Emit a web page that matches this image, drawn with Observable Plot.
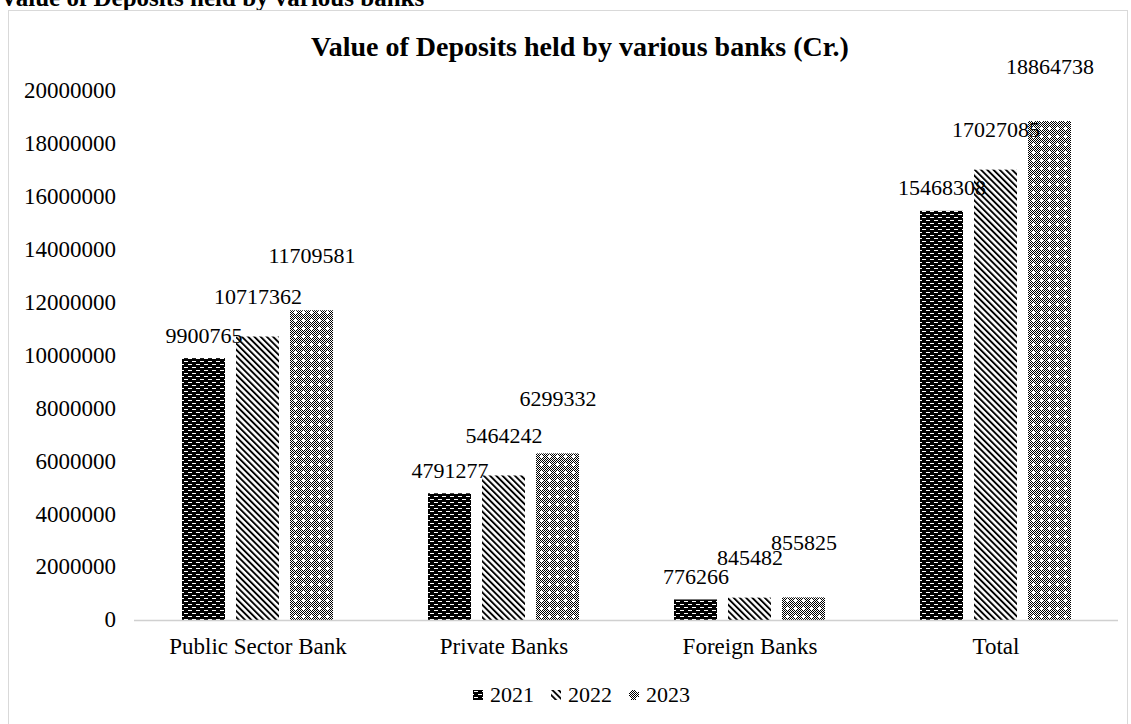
<!DOCTYPE html>
<html><head><meta charset="utf-8">
<script src="https://cdn.jsdelivr.net/npm/d3@7"></script>
<script src="https://cdn.jsdelivr.net/npm/@observablehq/plot@0.6"></script>
<style>
body{margin:0;width:1131px;height:724px;overflow:hidden;position:relative;background:#fff;font-family:"Liberation Serif","Times New Roman",serif;color:#000}
#pageTitle{position:absolute;left:0;top:-15px;font-weight:bold;font-size:25px;line-height:25px;white-space:nowrap}
#frame{position:absolute;left:8px;top:10px;width:1120px;height:760px;border:1px solid #d9d9d9;box-sizing:border-box}
#chartTitle{position:absolute;left:580px;top:31px;transform:translateX(-50%);font-weight:bold;font-size:28px;line-height:32px;white-space:nowrap}
#chart{position:absolute;left:0;top:0}
#legend{position:absolute;left:473px;top:683px;display:flex;align-items:center;font-size:22px;line-height:24px}
#legend .item{display:flex;align-items:center;margin-right:17px}
#legend svg{margin-right:7px}
</style></head>
<body>
<svg width="0" height="0" style="position:absolute">
  <defs id="patterns"></defs>
</svg>
<div id="pageTitle">Value of Deposits held by various banks</div>
<div id="frame"></div>
<div id="chartTitle">Value of Deposits held by various banks (Cr.)</div>
<div id="chart"></div>
<div id="legend"></div>
<script>
const categories = ["Public Sector Bank", "Private Banks", "Foreign Banks", "Total"];
const years = ["2021", "2022", "2023"];
const values2021 = [9900765, 4791277, 776266, 15468308];
const values2022 = [10717362, 5464242, 845482, 17027085];
const values2023 = [11709581, 6299332, 855825, 18864738];
const yTicks = [0, 2000000, 4000000, 6000000, 8000000, 10000000, 12000000, 14000000, 16000000, 18000000, 20000000];

const seriesByYear = {"2021": values2021, "2022": values2022, "2023": values2023};
const rows = [];
for (const year of years) categories.forEach((c, i) => rows.push({category: c, year, value: seriesByYear[year][i]}));

// Patterns
const defs = d3.select("#patterns");
// 2021: black with white dashes
const p1 = defs.append("pattern").attr("id", "p2021").attr("patternUnits", "userSpaceOnUse").attr("width", 8).attr("height", 6);
p1.append("rect").attr("width", 8).attr("height", 6).attr("fill", "#000");
p1.append("rect").attr("x", 1).attr("y", 1).attr("width", 4).attr("height", 1).attr("fill", "#fff");
p1.append("rect").attr("x", 5).attr("y", 4).attr("width", 3).attr("height", 1).attr("fill", "#fff");
p1.append("rect").attr("x", 0).attr("y", 4).attr("width", 1).attr("height", 1).attr("fill", "#fff");
// 2022: diagonal lines "\"
const p2 = defs.append("pattern").attr("id", "p2022").attr("patternUnits", "userSpaceOnUse").attr("width", 4.4).attr("height", 10).attr("patternTransform", "rotate(-45)");
p2.append("rect").attr("width", 4.4).attr("height", 10).attr("fill", "#fff");
p2.append("rect").attr("width", 1.9).attr("height", 10).attr("fill", "#000");
// 2023: fine checker with small white crosses
const p3 = defs.append("pattern").attr("id", "p2023").attr("patternUnits", "userSpaceOnUse").attr("width", 8).attr("height", 8);
p3.append("rect").attr("width", 8).attr("height", 8).attr("fill", "#fff");
const crossCells = new Set(["0,0", "1,0", "7,0", "0,1", "0,7", "2,0", "0,2", "6,0", "0,6"]);
for (let yy = 0; yy < 8; yy++) for (let xx = 0; xx < 8; xx++) {
  if ((xx + yy) % 2 === 1 && !crossCells.has(`${xx},${yy}`)) p3.append("rect").attr("x", xx).attr("y", yy).attr("width", 1).attr("height", 1).attr("fill", "#000");
}

const fills = years.map(y => `url(#p${y})`);
const labelDy = {"2021": -23, "2022": -40, "2023": -55};

const chart = Plot.plot({
  width: 1131,
  height: 670,
  marginLeft: 134,
  marginRight: 13,
  marginTop: 91,
  marginBottom: 50,
  style: {fontFamily: '"Liberation Serif","Times New Roman",serif', fontSize: "22px", color: "#000", background: "transparent", overflow: "visible"},
  fx: {domain: categories, paddingInner: 0.38, paddingOuter: 0.19, label: null, axis: null},
  x: {domain: years, paddingInner: 0.2, paddingOuter: 0, axis: null},
  y: {domain: [0, 20000000], axis: null},
  color: {domain: years, range: fills},
  marks: [
    Plot.axisFx({domain: categories, anchor: "bottom", tickSize: 0, tickPadding: 17, label: null, fontSize: 23}),
    Plot.barY(rows, {fx: "category", x: "year", y: "value", fill: "year"}),
    ...years.map(yr => Plot.text(rows, {
      filter: d => d.year === yr, fx: "category", x: "year", y: "value",
      text: d => String(d.value), dy: labelDy[yr], fill: "#000", fontSize: 22
    }))
  ]
});
document.getElementById("chart").appendChild(chart);

// y axis labels and continuous category axis line, placed with the plot's scales
const yScale = chart.scale("y");
const svg = d3.select(chart);
const y0 = yScale.apply(0);
svg.append("line")
  .attr("x1", 134).attr("x2", 1131 - 13)
  .attr("y1", Math.round(y0) + 0.5).attr("y2", Math.round(y0) + 0.5)
  .attr("stroke", "#d0d0d0").attr("stroke-width", 1.5);
svg.append("g")
  .attr("font-size", 23)
  .attr("text-anchor", "end")
  .selectAll("text").data(yTicks).join("text")
  .attr("x", 134 - 18)
  .attr("y", d => yScale.apply(d))
  .attr("dy", "0.32em")
  .attr("fill", "#000")
  .text(d => String(d));

// legend
const legend = d3.select("#legend");
years.forEach(yr => {
  const item = legend.append("div").attr("class", "item");
  const s = item.append("svg").attr("width", 10).attr("height", 10);
  s.append("rect").attr("width", 10).attr("height", 10).attr("fill", `url(#p${yr})`);
  item.append("span").text(yr);
});
</script>
</body></html>
